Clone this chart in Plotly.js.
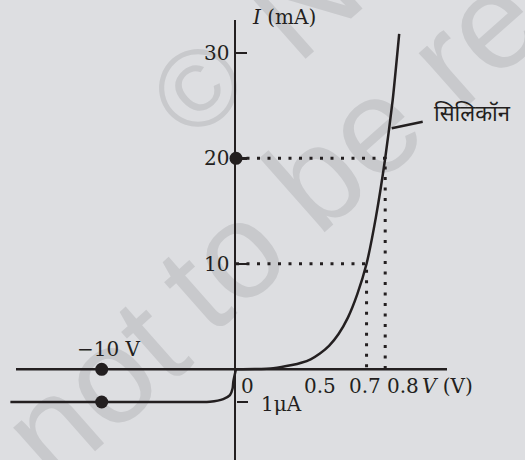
<!DOCTYPE html>
<html>
<head>
<meta charset="utf-8">
<script src="https://cdn.plot.ly/plotly-3.0.1.min.js"></script>
<style>
  html, body { margin: 0; padding: 0; background: #dddee1; }
  #chart { width: 525px; height: 460px; }
</style>
</head>
<body>
<div id="chart"></div>
<script>
// Forward-bias branch of the silicon diode: V in volts, I in mA
const forwardV = [0, 0.1, 0.2, 0.3, 0.35, 0.4, 0.45, 0.5, 0.55, 0.6, 0.65, 0.7, 0.75, 0.8, 0.84, 0.875];
const forwardI = [0, 0.02, 0.1, 0.4, 0.62, 0.95, 1.5, 2.25, 3.35, 4.9, 7.1, 10, 14.4, 20, 25.5, 31.8];

// Reverse-bias branch: V in volts, I in microamps
const reverseV = [-16.8, -2.7, -1.94, -0.95, -0.45, -0.25, -0.2, -0.07, 0];
const reverseI = [-1, -1, -0.99, -0.91, -0.79, -0.58, -0.38, -0.12, 0];

// Dotted read-off guides (voltage, current) on the forward branch
const guideV = [0.7, 0.8];
const guideI = [10, 20];

// Marked points
const markForwardV = [0];
const markForwardI = [20];
const markReverseV = [-10, -10];
const markReverseI = [0, -1];

// Axis ticks
const yTickVals = [10, 20, 30];
const yTickText = ['10', '20', '30'];
const xTickVals = [0, 0.5, 0.7, 0.8];
const xTickText = ['0', '0.5', '0.7', '0.8'];
const leakageTickVals = [-1];

const W = 525, H = 460;
const ink = '#231f20';
const serif = 'DejaVu Serif, serif';
const px = x => x / W;
const py = y => 1 - y / H;

const traces = [];

// guides first so the curve sits on top
guideV.forEach((v, i) => {
  traces.push({
    x: [0, v, v], y: [guideI[i], guideI[i], 0],
    xaxis: 'x', yaxis: 'y', mode: 'lines',
    line: { color: ink, width: 3, dash: '3px,7.5px' },
    hoverinfo: 'skip', showlegend: false
  });
});

traces.push({
  x: forwardV, y: forwardI, xaxis: 'x', yaxis: 'y', mode: 'lines',
  line: { color: ink, width: 2.5, shape: 'spline', smoothing: 0.6 },
  showlegend: false
});
traces.push({
  x: reverseV, y: reverseI, xaxis: 'x2', yaxis: 'y2', mode: 'lines',
  line: { color: ink, width: 2.5, shape: 'spline', smoothing: 0.6 },
  showlegend: false
});
traces.push({
  x: markForwardV, y: markForwardI, xaxis: 'x', yaxis: 'y', mode: 'markers',
  marker: { color: ink, size: 13 }, cliponaxis: false, showlegend: false
});
traces.push({
  x: markReverseV, y: markReverseI, xaxis: 'x2', yaxis: 'y2', mode: 'markers',
  marker: { color: ink, size: 13 }, cliponaxis: false, showlegend: false
});

// scales: forward 186.5 px per volt, 10.55 px per mA; reverse 13.43 px per volt, 32.7 px per µA
const originX = 236, originY = 369.3, axisTop = 20;
const fwdScale = 186.5, mAScale = 10.55, revScale = 13.43, uAScale = 32.7;
const fwdRight = 447, revRight = 250;

const layout = {
  width: W, height: H,
  margin: { l: 0, r: 0, t: 0, b: 0, pad: 0 },
  paper_bgcolor: '#dddee1',
  plot_bgcolor: 'rgba(0,0,0,0)',
  showlegend: false,
  xaxis: {
    domain: [px(originX), px(fwdRight)],
    range: [0, (fwdRight - originX) / fwdScale],
    visible: false, fixedrange: true
  },
  yaxis: {
    anchor: 'x',
    domain: [0, 1 - axisTop / H],
    range: [(originY - H) / mAScale, (originY - axisTop) / mAScale],
    showline: true, linecolor: ink, linewidth: 2.5,
    ticks: 'inside', ticklen: 11, tickwidth: 2.5, tickcolor: ink,
    tickvals: yTickVals, ticktext: yTickText,
    tickfont: { family: serif, size: 20, color: ink },
    showgrid: false, zeroline: false, fixedrange: true
  },
  xaxis2: {
    domain: [0, px(revRight)],
    range: [-originX / revScale, (revRight - originX) / revScale],
    visible: false, fixedrange: true
  },
  yaxis2: {
    anchor: 'free', position: px(originX),
    domain: [0, 1 - axisTop / H],
    range: [(originY - H) / uAScale, (originY - axisTop) / uAScale],
    showline: false, showticklabels: false,
    ticks: 'inside', ticklen: 11, tickwidth: 2.5, tickcolor: ink,
    tickvals: leakageTickVals,
    showgrid: false, zeroline: false, fixedrange: true
  },
  shapes: [],
  annotations: []
};

// horizontal V axis
layout.shapes.push({
  type: 'line', xref: 'paper', yref: 'y',
  x0: px(16), x1: px(fwdRight), y0: 0, y1: 0,
  line: { color: ink, width: 2.5 }
});
// leader to the curve label
layout.shapes.push({
  type: 'line', xref: 'paper', yref: 'paper',
  x0: px(391.7), y0: py(128.3), x1: px(422.7), y1: py(121.7),
  line: { color: ink, width: 2.5 }
});

// copyright watermark, drawn beneath the plot
const wmAngle = 41.5 * Math.PI / 180;
const wmFont = { family: 'Liberation Sans, Arial, sans-serif', size: 136, color: '#c8c9cc' };
function watermark(text, cx, cy, size) {
  const dx = 6 * Math.cos(wmAngle), dy = 6 * Math.sin(wmAngle);
  layout.shapes.push({
    type: 'line', layer: 'below', xref: 'paper', yref: 'paper',
    x0: px(cx - dx), y0: py(cy + dy), x1: px(cx + dx), y1: py(cy - dy),
    line: { color: 'rgba(0,0,0,0)', width: 1 },
    label: {
      text: text, textangle: -41.5, textposition: 'middle',
      xanchor: 'center', yanchor: 'middle', padding: 0,
      font: Object.assign({}, wmFont, { size: size || wmFont.size })
    }
  });
}
watermark('not', 85, 380);
watermark('to', 213, 255);
watermark('be', 335, 143);
watermark('republished', 683, -165);
watermark('©', 191, 80, 110);
watermark('NCERT', 432, -133);

// text labels
const labelFont = { family: serif, size: 20, color: ink };
const centred = { showarrow: false, xanchor: 'center', yanchor: 'middle', font: labelFont };
const xTickShift = [11, -9, -2, 18];
xTickVals.forEach((v, i) => {
  layout.annotations.push(Object.assign({}, centred, {
    xref: 'x', yref: 'y', x: v, y: 0, xshift: xTickShift[i], yshift: -17,
    text: xTickText[i]
  }));
});
layout.annotations.push(
  Object.assign({}, centred, { xref: 'paper', yref: 'paper', x: px(447), y: py(386),
    text: '<i>V</i> (V)' }),
  Object.assign({}, centred, { xref: 'paper', yref: 'paper', x: px(284), y: py(17),
    text: '<i>I</i> (mA)' }),
  Object.assign({}, centred, { xref: 'x2', yref: 'y2', x: markReverseV[0], y: markReverseI[0],
    xshift: 7, yshift: 20, text: '\u221210 V' }),
  Object.assign({}, centred, { xref: 'paper', yref: 'paper', x: px(281), y: py(403.5),
    text: '1\u03bcA' }),
  Object.assign({}, centred, { xref: 'paper', yref: 'paper', x: px(432), y: py(115),
    xanchor: 'left', text: 'सिलिकॉन',
    font: { family: 'Noto Sans Devanagari, Noto Serif Devanagari, Lohit Devanagari, Noto Sans, sans-serif', size: 22, color: ink } })
);

Plotly.newPlot('chart', traces, layout, { staticPlot: true, displayModeBar: false });
</script>
</body>
</html>
